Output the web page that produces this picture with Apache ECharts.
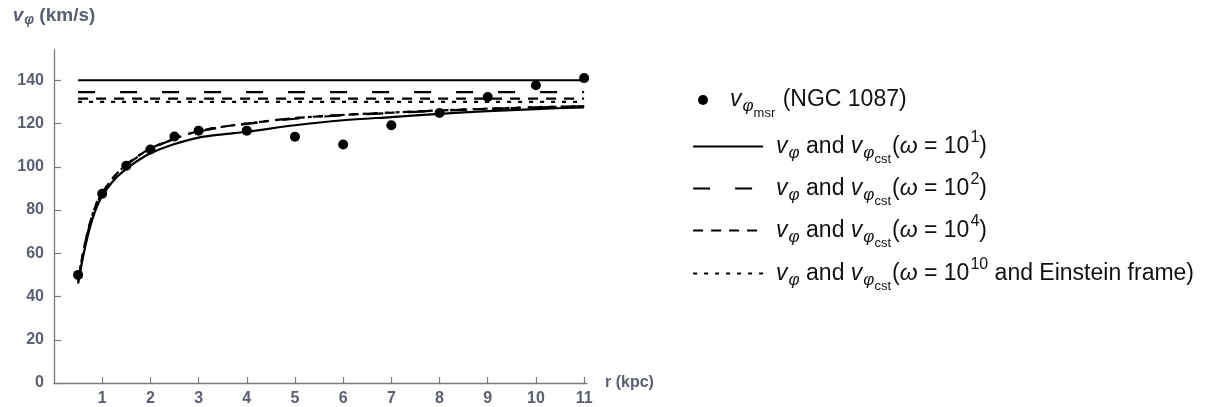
<!DOCTYPE html>
<html>
<head>
<meta charset="utf-8">
<script src="https://cdn.jsdelivr.net/npm/echarts@6/dist/echarts.min.js"></script>
<style>
  html, body { margin: 0; padding: 0; background: #fff; }
  #chart { width: 1218px; height: 407px; }
</style>
</head>
<body>
<div id="chart"></div>
<script>
// Measured rotation velocities of NGC 1087 (kpc, km/s)
const rMeasured = [0.5, 1, 1.5, 2, 2.5, 3, 4, 5, 6, 7, 8, 9, 10, 11];
const vMeasured = [50, 87.5, 100.5, 108, 114, 116.7, 116.7, 113.9, 110.3, 119.2, 124.9, 132.3, 137.7, 141];

// Radii at which the model curves are sampled (kpc)
const rCurve = [0.5, 0.6, 0.7, 0.8, 0.9, 1, 1.25, 1.5, 1.75, 2, 2.5, 3, 3.5, 4, 5, 6, 7, 8, 9, 10, 11];
// v_phi curves for each omega
const vCurveW1  = [46, 58, 68, 76, 82, 86.5, 94, 99, 103, 106.3, 110.5, 113.5, 115, 116.2, 119.2, 121.5, 123, 124.5, 125.7, 126.7, 127.5];
const vCurveW2  = [47, 59, 69.5, 77.5, 83.5, 87.8, 95.3, 100.8, 104.8, 108.2, 112.8, 116.2, 118.3, 119.8, 122.2, 123.8, 124.9, 125.9, 126.7, 127.4, 128];
const vCurveW4  = [47.5, 60, 70, 78, 84, 88, 95.5, 101, 105, 108.5, 113, 116.5, 118.5, 120, 122.5, 124, 125, 126, 126.8, 127.5, 128];
const vCurveW10 = [47.5, 60, 70, 78, 84, 88, 95.5, 101, 105, 108.5, 113, 116.5, 118.5, 120, 122.5, 124, 125.1, 126.1, 126.9, 127.6, 128.1];

// Constant velocities v_phi_cst for each omega, drawn over [0.5, 11] kpc
const rConstSpan = [0.5, 11];
const vConst = [140, 134.5, 131.5, 130];

// Axis ticks
const xTicks = [1, 2, 3, 4, 5, 6, 7, 8, 9, 10, 11];
const yTicks = [0, 20, 40, 60, 80, 100, 120, 140];

const FONT = "'Liberation Sans', Arial, sans-serif";
const AXIS_GRAY = '#7b7b7b';
const LABEL_GRAY = '#5a6072';

const pairs = (xs, ys) => xs.map((x, i) => [x, ys[i]]);
const flat = v => rConstSpan.map(x => [x, v]);

// line styles for omega = 10^1, 10^2, 10^4, 10^10
const styles = [
  { name: 'w1',  type: 'solid' },
  { name: 'w2',  type: [17, 25] },
  { name: 'w4',  type: [10, 8] },
  { name: 'w10', type: [4, 7] }
];
const curves = [vCurveW1, vCurveW2, vCurveW4, vCurveW10];

const series = [];
styles.forEach((s, i) => {
  const ls = { color: '#000', width: 2.2, type: s.type };
  series.push({
    name: s.name, type: 'line', data: pairs(rCurve, curves[i]),
    smooth: 0.3, showSymbol: false, symbol: 'none', lineStyle: ls,
    itemStyle: { color: '#000' }, silent: true, z: 2
  });
  series.push({
    name: s.name, type: 'line', data: flat(vConst[i]),
    showSymbol: false, symbol: 'none', lineStyle: ls,
    itemStyle: { color: '#000' }, silent: true, z: 2
  });
});
series.push({
  name: 'msr', type: 'scatter', data: pairs(rMeasured, vMeasured),
  symbol: 'circle', symbolSize: 10, itemStyle: { color: '#000', opacity: 1 }, z: 5
});

const SUB = '{s1|φ}';
const legendText = {
  msr: '{v0|v}' + SUB + '{s2|msr}{t| (NGC 1087)}',
  w1:  '{v|v}' + SUB + '{t| and }{vv|v}' + SUB + '{s2|cst}{t|(}{w|ω}{t| = 10}{sup|1}{t|)}',
  w2:  '{v|v}' + SUB + '{t| and }{vv|v}' + SUB + '{s2|cst}{t|(}{w|ω}{t| = 10}{sup|2}{t|)}',
  w4:  '{v|v}' + SUB + '{t| and }{vv|v}' + SUB + '{s2|cst}{t|(}{w|ω}{t| = 10}{sup|4}{t|)}',
  w10: '{v|v}' + SUB + '{t| and }{vv|v}' + SUB + '{s2|cst}{t|(}{w|ω}{t| = 10}{sup|10}{t| and Einstein frame)}'
};
const rich = {
  v0:  { fontFamily: FONT, fontSize: 23, fontStyle: 'italic', color: '#111', padding: [0, 0, 0, 17] },
  v:   { fontFamily: FONT, fontSize: 23, fontStyle: 'italic', color: '#111', padding: [0, 0, 0, 8] },
  vv:  { fontFamily: FONT, fontSize: 23, fontStyle: 'italic', color: '#111' },
  t:   { fontFamily: FONT, fontSize: 23, color: '#111' },
  w:   { fontFamily: FONT, fontSize: 23, fontStyle: 'italic', color: '#111' },
  s1:  { fontFamily: FONT, fontSize: 17, fontStyle: 'italic', color: '#111', padding: [13, 0, 0, 1] },
  s2:  { fontFamily: FONT, fontSize: 13, color: '#111', padding: [26, 1, 0, 0] },
  sup: { fontFamily: FONT, fontSize: 16, color: '#111', padding: [0, 0, 17, 1] }
};

const rowY = [100, 145, 187, 229, 272];
const legendNames = ['msr', 'w1', 'w2', 'w4', 'w10'];
const legends = legendNames.map((n, i) => ({
  data: [n],
  left: n === 'msr' ? 698 : 692,
  top: rowY[i] - 15,
  orient: 'vertical',
  selectedMode: false,
  itemWidth: n === 'msr' ? 10 : 70,
  itemHeight: n === 'msr' ? 10 : 14,
  padding: 0,
  lineStyle: { width: 2.2 },
  // line rows show only the stroke, no marker in the middle
  itemStyle: n === 'msr'
    ? { color: '#000', opacity: 1 }
    : { color: 'rgba(0,0,0,0)', borderColor: 'rgba(0,0,0,0)', borderWidth: 0, opacity: 0 },
  formatter: name => legendText[name],
  textStyle: { fontFamily: FONT, fontSize: 23, color: '#111', rich: rich, height: 30, lineHeight: 30 }
}));

const chart = echarts.init(document.getElementById('chart'), null, { renderer: 'canvas' });
chart.setOption({
  backgroundColor: '#fff',
  animation: false,
  grid: { left: 54, right: 631, top: 50, bottom: 24, containLabel: false },
  legend: legends,
  xAxis: {
    type: 'value', min: 0, max: 11.06, interval: 1,
    name: 'r (kpc)', nameLocation: 'end', nameGap: 18,
    nameTextStyle: { fontFamily: FONT, fontSize: 16, fontWeight: 'bold', color: LABEL_GRAY },
    axisLine: { show: true, onZero: false, lineStyle: { color: AXIS_GRAY, width: 1.3 } },
    axisTick: { show: true, inside: true, length: 6, customValues: xTicks, lineStyle: { color: AXIS_GRAY, width: 1.2 } },
    axisLabel: { customValues: xTicks, margin: 8, fontFamily: FONT, fontSize: 16, fontWeight: 'bold', color: LABEL_GRAY },
    splitLine: { show: false }
  },
  yAxis: {
    type: 'value', min: 0, max: 154, interval: 20,
    name: '{v|v}{s|φ}{t| (km/s)}', nameLocation: 'end', nameGap: 23,
    nameTextStyle: {
      align: 'center',
      rich: {
        v: { fontFamily: FONT, fontSize: 19, fontWeight: 'bold', fontStyle: 'italic', color: LABEL_GRAY },
        s: { fontFamily: FONT, fontSize: 14, fontWeight: 'bold', fontStyle: 'italic', color: LABEL_GRAY, padding: [9, 0, 0, 1] },
        t: { fontFamily: FONT, fontSize: 19, fontWeight: 'bold', color: LABEL_GRAY }
      }
    },
    axisLine: { show: true, onZero: false, lineStyle: { color: AXIS_GRAY, width: 1.3 } },
    axisTick: { show: true, inside: true, length: 7, customValues: yTicks, lineStyle: { color: AXIS_GRAY, width: 1.2 } },
    axisLabel: { customValues: yTicks, margin: 10, fontFamily: FONT, fontSize: 16, fontWeight: 'bold', color: LABEL_GRAY },
    splitLine: { show: false }
  },
  series: series
});
</script>
</body>
</html>
